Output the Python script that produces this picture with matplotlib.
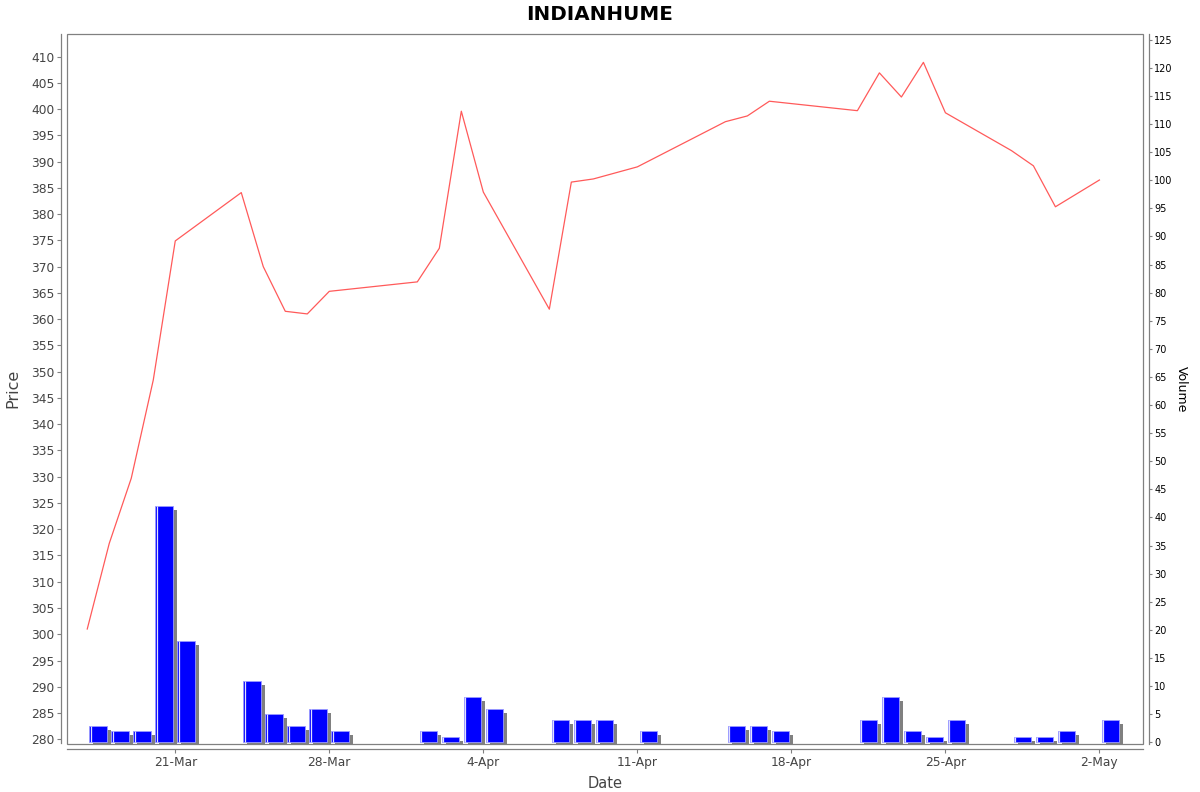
#!/usr/bin/env python3
import numpy as np
import pandas as pd
import matplotlib
matplotlib.use("Agg")
import matplotlib.pyplot as plt
import matplotlib.dates as mdates
from matplotlib.transforms import ScaledTranslation
from matplotlib.patches import Rectangle

plt.rcParams['font.family'] = ['DejaVu Sans']

# trading days (2025) and values
dates = pd.to_datetime([
    "2025-03-17", "2025-03-18", "2025-03-19", "2025-03-20", "2025-03-21",
    "2025-03-24", "2025-03-25", "2025-03-26", "2025-03-27", "2025-03-28",
    "2025-04-01", "2025-04-02", "2025-04-03", "2025-04-04",
    "2025-04-07", "2025-04-08", "2025-04-09", "2025-04-11",
    "2025-04-15", "2025-04-16", "2025-04-17",
    "2025-04-21", "2025-04-22", "2025-04-23", "2025-04-24", "2025-04-25",
    "2025-04-28", "2025-04-29", "2025-04-30", "2025-05-02",
])
price = [301.0, 317.3, 329.7, 348.4, 374.9,
         384.1, 370.0, 361.5, 361.0, 365.3,
         367.1, 373.5, 399.6, 384.2,
         361.9, 386.1, 386.7, 389.0,
         397.6, 398.7, 401.5,
         399.7, 406.9, 402.3, 408.9, 399.3,
         392.1, 389.2, 381.4, 386.5]
volume = [3, 2, 2, 42, 18,
          11, 5, 3, 6, 2,
          2, 1, 8, 6,
          4, 4, 4, 2,
          3, 3, 2,
          4, 8, 2, 1, 4,
          1, 1, 2, 4]

title = "INDIANHUME"

GRAY = "#808080"
TXT = "#444444"

fig = plt.figure(figsize=(12, 7.92), dpi=100)
ax = fig.add_axes([67/1200, 1 - 743.5/792, 1076/1200, 709.5/792])
ax2 = ax.twinx()
ax.set_zorder(ax2.get_zorder() + 1)
ax.patch.set_visible(False)

x = mdates.date2num(dates)

# volume bars with a drop shadow, JFreeChart style
shadow = ax2.transData + ScaledTranslation(4/100, -4/100, fig.dpi_scale_trans)
ax2.bar(x + 0.1, volume, width=0.8, align='edge', color=GRAY,
        linewidth=0, transform=shadow, zorder=1)
ax2.bar(x + 0.1, volume, width=0.8, align='edge', color='#0000ff',
        edgecolor='#9a9aff', linewidth=0.6, zorder=2)
ax2.vlines(x + 0.16, 0, volume, color='#e0e0ff', linewidth=0.9, zorder=3)

ax.plot(x, price, color='#ff5a5a', linewidth=0.9)

ax.set_xlim(x[0] - 0.92, x[-1] + 1.98)
ax.set_ylim(279.2, 414.3)
ax2.set_ylim(-0.2, 126.0)

ax.set_yticks(np.arange(280, 411, 5))
ax2.set_yticks(np.arange(0, 126, 5))
ax.xaxis.set_major_locator(mdates.WeekdayLocator(byweekday=mdates.FR))
ax.xaxis.set_major_formatter(
    plt.FuncFormatter(lambda v, p: "%d-%s" % (mdates.num2date(v).day,
                                               mdates.num2date(v).strftime('%b'))))

for a in (ax, ax2):
    for s in a.spines.values():
        s.set_visible(False)
ax.spines['left'].set_visible(True)
ax.spines['bottom'].set_visible(True)
ax2.spines['right'].set_visible(True)
for s in (ax.spines['left'], ax.spines['bottom'], ax2.spines['right']):
    s.set_position(('outward', 4))
    s.set_color(GRAY)
    s.set_linewidth(0.9)

# plot outline
ax.add_patch(Rectangle((0, 0), 1, 1, transform=ax.transAxes, fill=False,
                       edgecolor=GRAY, linewidth=0.9, clip_on=False, zorder=5))

ax.tick_params(axis='y', length=3, width=0.8, color=GRAY, labelcolor=TXT,
               labelsize=8.8, pad=2)
ax.tick_params(axis='x', length=3, width=0.8, color=GRAY, labelcolor=TXT,
               labelsize=8.8, pad=2)
ax2.tick_params(axis='y', length=2, width=0.8, color=GRAY, labelcolor='black',
                labelsize=7, pad=2)

ax.set_ylabel("Price", fontsize=11.5, color=TXT)
ax.yaxis.set_label_coords(-0.0437, 0.5)
ax.set_xlabel("Date", fontsize=10.5, color=TXT)
ax.xaxis.set_label_coords(0.5, -0.046)
ax2.set_ylabel("Volume", fontsize=9, color='black', rotation=-90, va='center')
ax2.yaxis.set_label_coords(1.0353, 0.5)

fig.text(0.5, 1 - 14/792, title, ha='center', va='center',
         fontsize=14.3, fontweight='bold')

fig.savefig("out.png", dpi=100)
